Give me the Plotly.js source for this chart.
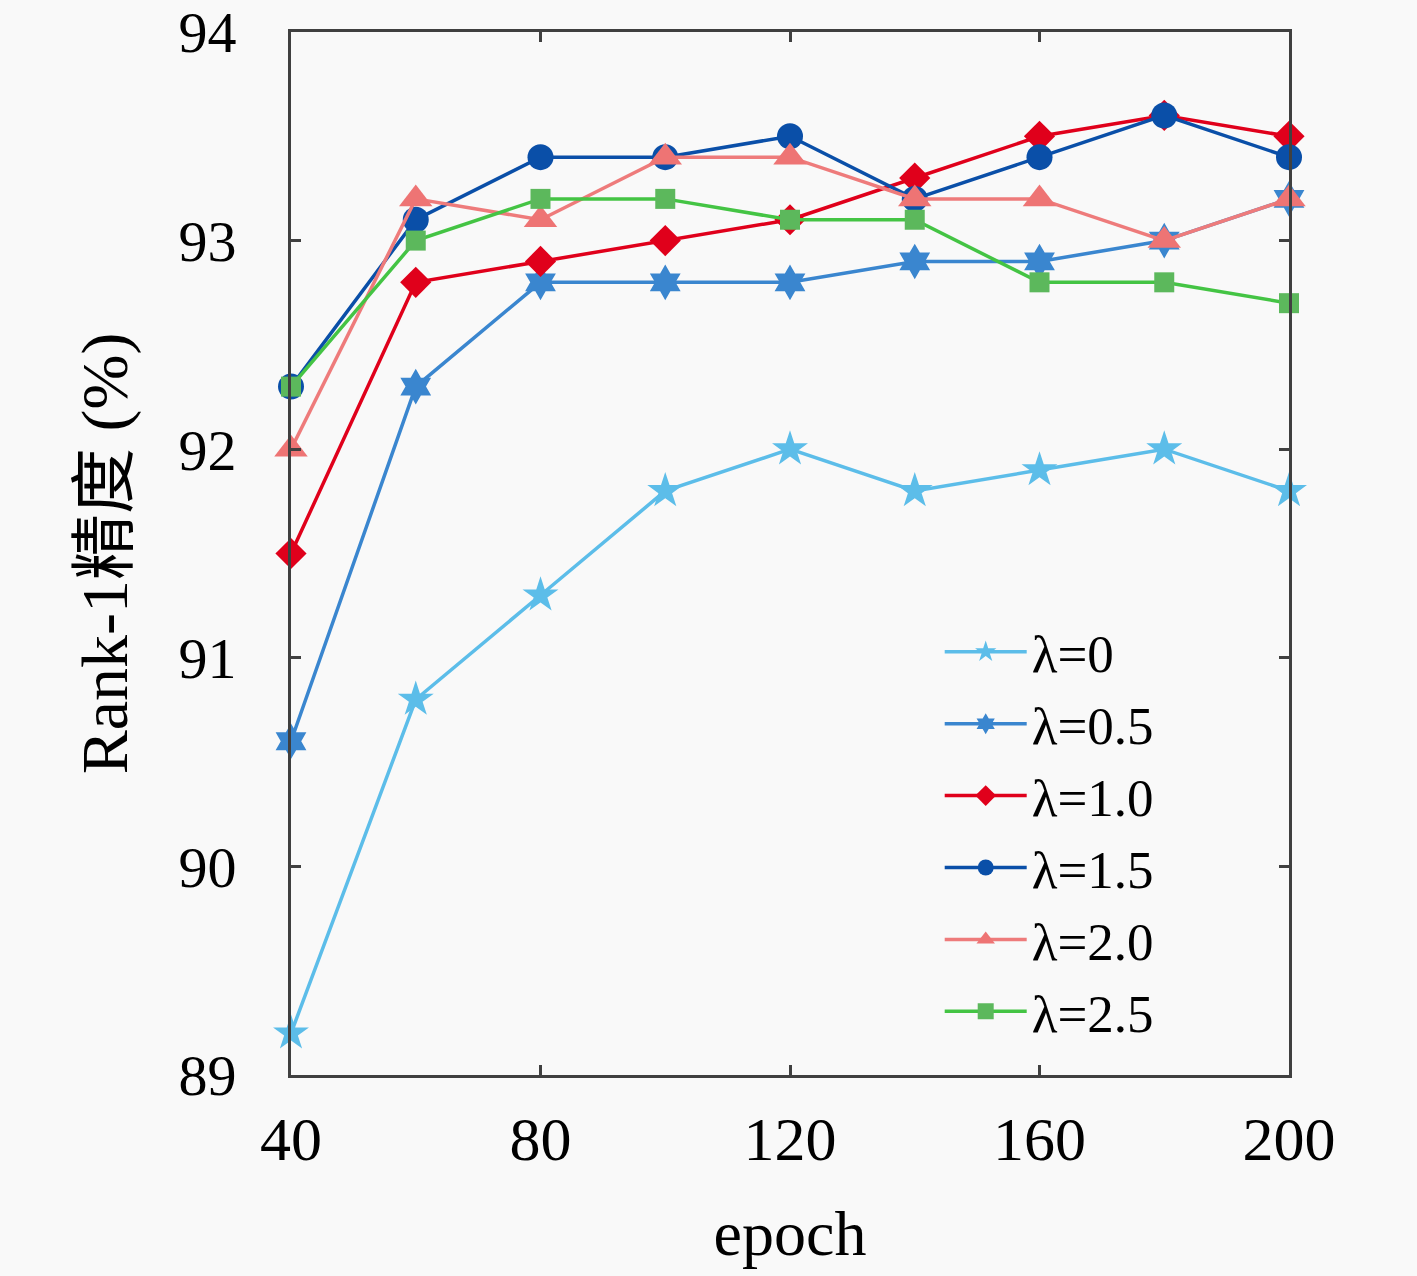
<!DOCTYPE html>
<html><head><meta charset="utf-8">
<script src="https://cdn.plot.ly/plotly-3.0.1.min.js"></script>
<style>html,body{margin:0;padding:0;background:#f9f9f9;}</style>
</head><body>
<div id="chart" style="width:1417px;height:1276px;"></div>
<script>
const epochs = [40, 60, 80, 100, 120, 140, 160, 180, 200];
const lam0   = [89.2, 90.8, 91.3, 91.8, 92.0, 91.8, 91.9, 92.0, 91.8];
const lam05  = [90.6, 92.3, 92.8, 92.8, 92.8, 92.9, 92.9, 93.0, 93.2];
const lam10  = [91.5, 92.8, 92.9, 93.0, 93.1, 93.3, 93.5, 93.6, 93.5];
const lam15  = [92.3, 93.1, 93.4, 93.4, 93.5, 93.2, 93.4, 93.6, 93.4];
const lam20  = [92.0, 93.2, 93.1, 93.4, 93.4, 93.2, 93.2, 93.0, 93.2];
const lam25  = [92.3, 93.0, 93.2, 93.2, 93.1, 93.1, 92.8, 92.8, 92.7];
const seriesNames = ['λ=0', 'λ=0.5', 'λ=1.0', 'λ=1.5', 'λ=2.0', 'λ=2.5'];
const xTicks = [40, 80, 120, 160, 200];
const yTicks = [89, 90, 91, 92, 93, 94];

const styles = [
  {line:'#5cbde9', fill:'#5cbde9', sym:'star', size:27},
  {line:'#3a86cf', fill:'#3a86cf', sym:'hexagram', size:27},
  {line:'#e0001b', fill:'#e0001b', sym:'diamond', size:24},
  {line:'#0a4fa8', fill:'#0a4fa8', sym:'circle', size:26},
  {line:'#ee7b7b', fill:'#ee7474', sym:'triangle-up', size:29},
  {line:'#44c444', fill:'#5cb85c', sym:'square', size:20}
];
const data = [lam0, lam05, lam10, lam15, lam20, lam25];
const traces = data.map((ys, i) => ({
  x: epochs, y: ys, name: seriesNames[i], type: 'scatter', mode: 'lines+markers',
  cliponaxis: false,
  line: {color: styles[i].line, width: 3.5},
  marker: {symbol: styles[i].sym, size: styles[i].size, color: styles[i].fill, line: {width: 0}}
}));

const fam = '"Liberation Serif", "Noto Sans CJK SC", serif';
const layout = {
  width: 1417, height: 1276,
  margin: {l: 291, r: 128, t: 32, b: 201},
  paper_bgcolor: '#f9f9f9', plot_bgcolor: '#f9f9f9',
  font: {family: fam, size: 60, color: '#000'},
  showlegend: true,
  legend: {x: 0.65, y: 0.445, xanchor: 'left', yanchor: 'top', bgcolor: 'rgba(0,0,0,0)',
           font: {family: fam, size: 53, color: '#000'}, tracegroupgap: 0, itemwidth: 82},
  xaxis: {
    range: [40, 200], tickvals: xTicks, ticktext: xTicks.map(String),
    showline: true, linecolor: '#404040', linewidth: 3, mirror: 'ticks',
    ticks: 'inside', ticklen: 10, tickwidth: 3, tickcolor: '#404040',
    showgrid: false, zeroline: false, ticklabelstandoff: 8, ticklabeloverflow: 'allow',
    tickfont: {family: fam, size: 62},
    title: {text: 'epoch', font: {family: fam, size: 64}, standoff: 38}
  },
  yaxis: {
    range: [89, 94], tickvals: yTicks, ticktext: yTicks.map(String),
    showline: true, linecolor: '#404040', linewidth: 3, mirror: 'ticks',
    ticks: 'inside', ticklen: 10, tickwidth: 3, tickcolor: '#404040',
    showgrid: false, zeroline: false, ticklabelstandoff: 40, ticklabeloverflow: 'allow',
    tickfont: {family: fam, size: 58},
    title: {text: 'Rank-1精度 (%)', font: {family: fam, size: 66}, standoff: 30}
  }
};
Plotly.newPlot('chart', traces, layout, {displayModeBar: false, staticPlot: true});
</script>
</body></html>
